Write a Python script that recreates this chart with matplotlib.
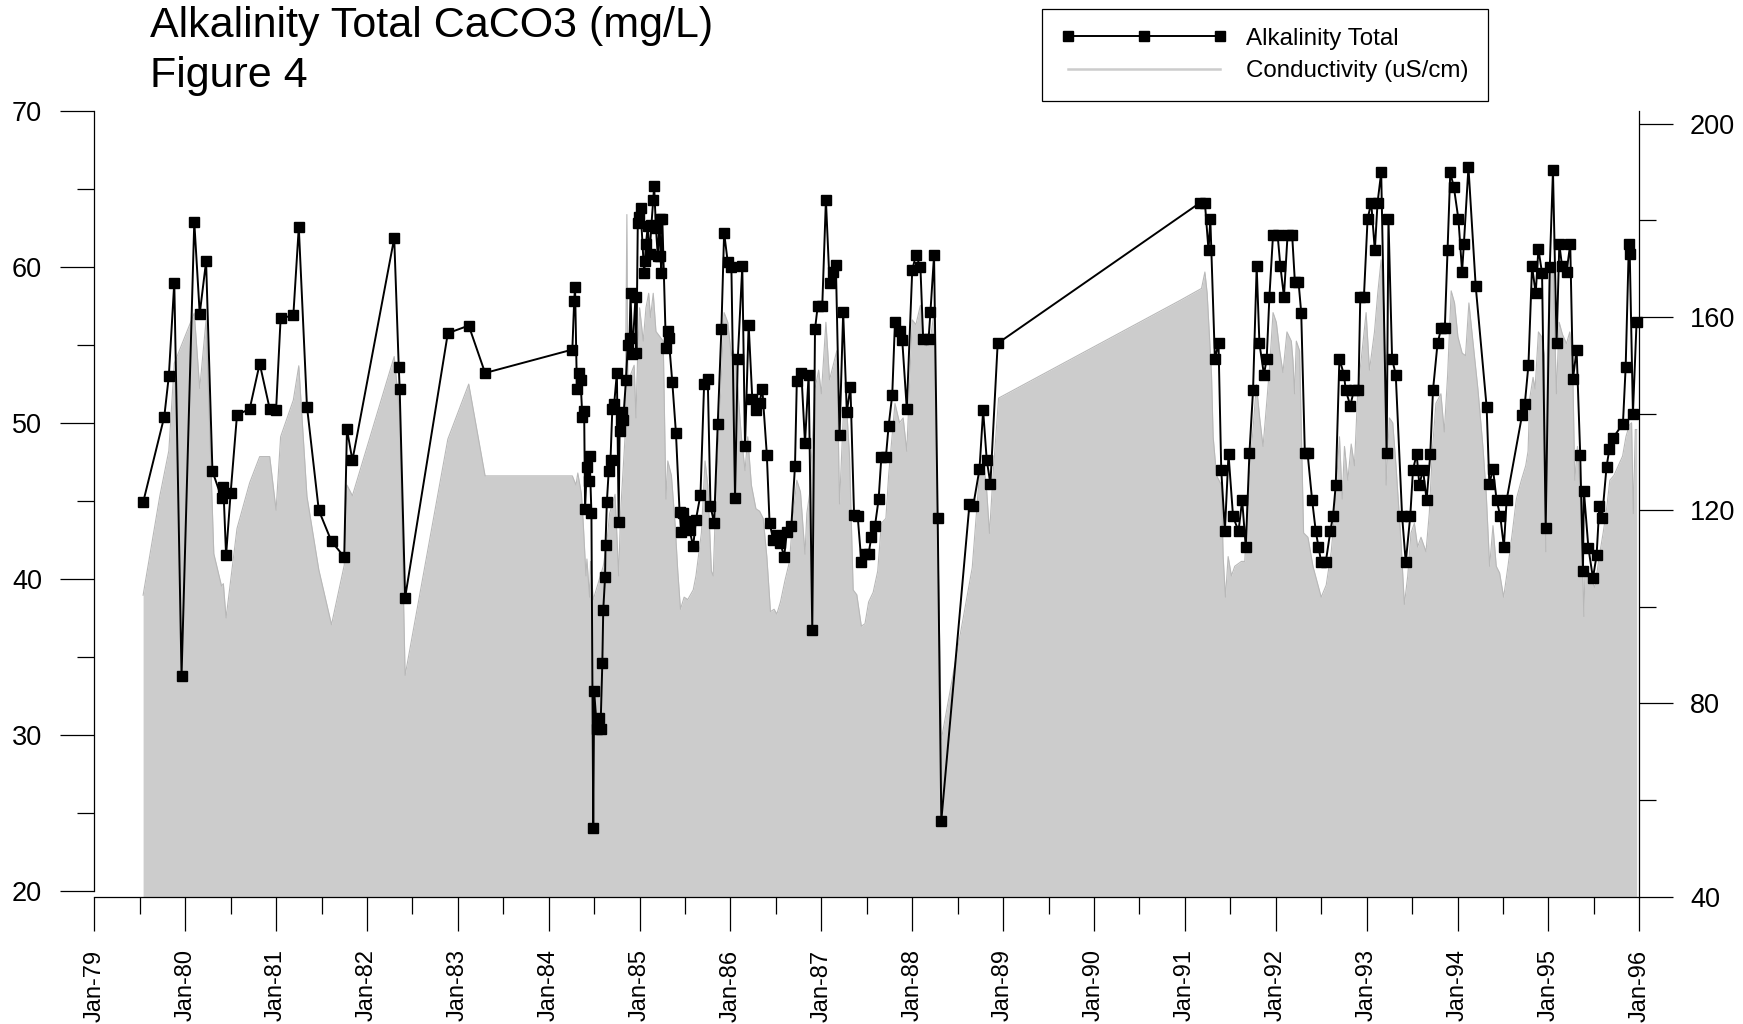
import matplotlib
matplotlib.use('Agg')
import matplotlib.pyplot as plt
from matplotlib.lines import Line2D

# ---------------- data ----------------
alk_year = [
    1979.537, 1979.77, 1979.82, 1979.88, 1979.96, 1980.10, 1980.16, 1980.23, 1980.30, 1980.40,
    1980.42, 1980.45, 1980.50, 1980.57, 1980.71, 1980.82, 1980.93, 1981.00, 1981.05, 1981.19,
    1981.25, 1981.34, 1981.47, 1981.61, 1981.75, 1981.78, 1981.84, 1982.30, 1982.35, 1982.36,
    1982.42, 1982.89, 1983.12, 1983.30,
    1984.26, 1984.28, 1984.29, 1984.31, 1984.33, 1984.35, 1984.37, 1984.39, 1984.40, 1984.42,
    1984.44, 1984.45, 1984.47, 1984.49, 1984.50, 1984.53, 1984.55, 1984.57, 1984.59, 1984.60,
    1984.62, 1984.625, 1984.64, 1984.66, 1984.68, 1984.70, 1984.72, 1984.75, 1984.77, 1984.78,
    1984.80, 1984.81, 1984.82, 1984.85, 1984.87, 1984.89, 1984.90, 1984.92, 1984.955, 1984.965,
    1984.98, 1984.99, 1985.01, 1985.05, 1985.06, 1985.07, 1985.09, 1985.11, 1985.13, 1985.15,
    1985.16, 1985.18, 1985.20, 1985.22, 1985.23, 1985.24, 1985.25, 1985.29, 1985.31, 1985.32,
    1985.36, 1985.40, 1985.44, 1985.46, 1985.48, 1985.50, 1985.55, 1985.59, 1985.62, 1985.67,
    1985.71, 1985.75, 1985.78, 1985.82, 1985.86, 1985.90, 1985.93, 1985.97, 1986.01, 1986.05,
    1986.08, 1986.13, 1986.16, 1986.20, 1986.24, 1986.28, 1986.32, 1986.35,
    1986.40, 1986.43, 1986.47, 1986.51, 1986.55, 1986.59, 1986.62, 1986.67, 1986.71, 1986.73,
    1986.78, 1986.82, 1986.86, 1986.90, 1986.93, 1986.96, 1987.01, 1987.05, 1987.09, 1987.13,
    1987.16, 1987.20, 1987.24, 1987.28, 1987.32, 1987.36, 1987.40, 1987.44, 1987.48, 1987.52,
    1987.55, 1987.59, 1987.63, 1987.66, 1987.71, 1987.74, 1987.78, 1987.81, 1987.86, 1987.89,
    1987.94, 1988.00, 1988.04, 1988.09, 1988.12, 1988.18, 1988.20, 1988.24, 1988.28, 1988.32,
    1988.63, 1988.67, 1988.74, 1988.78, 1988.82, 1988.86, 1988.94,
    1991.17, 1991.22, 1991.26, 1991.28, 1991.33, 1991.37, 1991.40, 1991.44, 1991.48, 1991.53,
    1991.59, 1991.63, 1991.67, 1991.71, 1991.75, 1991.79, 1991.82, 1991.87, 1991.90, 1991.93,
    1991.97, 1992.02, 1992.05, 1992.09, 1992.13, 1992.18, 1992.21, 1992.25, 1992.28, 1992.32,
    1992.35, 1992.40, 1992.44, 1992.47, 1992.50, 1992.55, 1992.60, 1992.63, 1992.66, 1992.70,
    1992.75, 1992.77, 1992.82, 1992.86, 1992.91, 1992.93, 1992.97, 1993.01, 1993.05, 1993.09,
    1993.12, 1993.16, 1993.22, 1993.24, 1993.28, 1993.32, 1993.39, 1993.43, 1993.48, 1993.51,
    1993.55, 1993.58, 1993.62, 1993.66, 1993.70, 1993.73, 1993.78, 1993.82, 1993.86, 1993.89,
    1993.92, 1993.96, 1994.01, 1994.05, 1994.07, 1994.12, 1994.20, 1994.32, 1994.35, 1994.39,
    1994.43, 1994.47, 1994.51, 1994.54, 1994.71, 1994.74, 1994.78, 1994.82, 1994.86, 1994.89,
    1994.93, 1994.97, 1995.015, 1995.05, 1995.09, 1995.12, 1995.15, 1995.20, 1995.24, 1995.27,
    1995.31, 1995.35, 1995.38, 1995.39, 1995.44, 1995.49, 1995.53, 1995.56, 1995.59, 1995.64,
    1995.67, 1995.71, 1995.82, 1995.85, 1995.885, 1995.895, 1995.93, 1995.97,
]
alk_value = [
    44.9, 50.4, 53.0, 59.0, 33.8, 62.9, 57.0, 60.35, 46.9, 45.2,
    45.9, 41.5, 45.5, 50.5, 50.9, 53.8, 50.9, 50.8, 56.7, 56.9,
    62.55, 51.05, 44.4, 42.4, 41.4, 49.6, 47.6, 61.85, 53.6, 52.2,
    38.8, 55.75, 56.24, 53.2,
    54.7, 57.8, 58.7, 52.2, 53.2, 52.75, 50.4, 50.75, 44.5, 47.2,
    46.3, 47.9, 44.2, 24.0, 32.8, 30.4, 31.1, 30.4, 34.6, 38.0,
    40.1, 42.2, 44.95, 46.9, 47.65, 50.9, 51.2, 53.2, 43.65, 49.5,
    50.2, 50.7, 50.2, 52.75, 55.0, 55.45, 58.3, 54.4, 58.1, 54.45,
    62.8, 63.2, 63.8, 59.6, 60.4, 61.5, 62.6, 60.8, 62.7, 64.3,
    65.2, 62.5, 60.7, 63.1, 60.7, 59.6, 63.1, 54.8, 55.9, 55.45,
    52.6, 49.35, 44.3, 43.0, 44.25, 43.7, 43.1, 42.1, 43.8, 45.4,
    52.5, 52.8, 44.65, 43.6, 49.95, 56.0, 62.2, 60.3, 60.0, 45.2,
    54.1, 60.05, 48.5, 56.3, 51.55, 50.8, 51.3, 52.2,
    47.96, 43.6, 42.5, 42.8, 42.3, 41.4, 43.0, 43.4, 47.25, 52.7,
    53.2, 48.7, 53.1, 36.7, 56.0, 57.5, 57.5, 64.3, 59.0, 59.7,
    60.1, 49.2, 57.1, 50.7, 52.3, 44.1, 44.0, 41.06, 41.6, 41.6,
    42.7, 43.4, 45.1, 47.8, 47.8, 49.8, 51.8, 56.5, 55.9, 55.3,
    50.9, 59.8, 60.75, 60.0, 55.4, 55.4, 57.1, 60.75, 43.9, 24.5,
    44.8, 44.65, 47.04, 50.8, 47.6, 46.1, 55.1,
    64.13, 64.13, 61.06, 63.05, 54.1, 55.1, 47.0, 43.05, 48.0, 44.0,
    43.05, 45.05, 42.04, 48.05, 52.1, 60.05, 55.1, 53.1, 54.1, 58.1,
    62.07, 62.07, 60.08, 58.1, 62.07, 62.07, 59.06, 59.06, 57.07, 48.05,
    48.05, 45.05, 43.05, 42.04, 41.06, 41.06, 43.05, 44.03, 46.03, 54.1,
    53.1, 52.1, 51.1, 52.1, 52.1, 58.1, 58.1, 63.05, 64.13, 61.06,
    64.13, 66.06, 48.05, 63.05, 54.1, 53.1, 44.03, 41.06, 44.03, 47.0,
    48.0, 46.03, 47.0, 45.05, 48.0, 52.1, 55.1, 56.06, 56.06, 61.06,
    66.06, 65.1, 63.05, 59.7, 61.5, 66.4, 58.76, 51.03, 46.1, 47.04,
    45.05, 44.03, 42.04, 45.05, 50.5, 51.2, 53.7, 60.05, 58.3, 61.15,
    59.6, 43.27, 60.0, 66.2, 55.1, 61.46, 60.05, 59.7, 61.46, 52.8,
    54.7, 47.96, 40.5, 45.66, 41.98, 40.05, 41.5, 44.65, 43.9, 47.2,
    48.3, 49.03, 49.95, 53.6, 61.46, 60.8, 50.6, 56.46,
]

cond_year = [
    1979.537, 1979.72, 1979.82, 1979.88, 1980.10, 1980.16, 1980.23, 1980.315, 1980.40, 1980.42,
    1980.45, 1980.57, 1980.71, 1980.82, 1980.93, 1981.00, 1981.05, 1981.19, 1981.25, 1981.34,
    1981.47, 1981.61, 1981.75, 1981.78, 1981.84, 1982.30, 1982.36, 1982.42, 1982.89, 1983.12,
    1983.30, 1984.26, 1984.30, 1984.32, 1984.36, 1984.38, 1984.41, 1984.42, 1984.45, 1984.46,
    1984.49, 1984.60, 1984.64, 1984.67, 1984.73, 1984.77, 1984.79, 1984.84, 1984.86, 1984.87,
    1984.90, 1984.94, 1984.96, 1984.98, 1985.00, 1985.04, 1985.07, 1985.10, 1985.12, 1985.15,
    1985.18, 1985.22, 1985.26, 1985.29, 1985.31, 1985.35, 1985.39, 1985.42, 1985.45, 1985.49,
    1985.53, 1985.59, 1985.62, 1985.68, 1985.72, 1985.75, 1985.79, 1985.81, 1985.84, 1985.88,
    1985.93, 1985.97, 1986.01, 1986.03, 1986.06, 1986.12, 1986.16, 1986.19, 1986.23, 1986.28,
    1986.32, 1986.36, 1986.40, 1986.44, 1986.48, 1986.51, 1986.55, 1986.60, 1986.65, 1986.68,
    1986.73, 1986.77, 1986.82, 1986.84, 1986.87, 1986.93, 1986.97, 1987.00, 1987.05, 1987.09,
    1987.13, 1987.17, 1987.20, 1987.24, 1987.28, 1987.31, 1987.35, 1987.39, 1987.44, 1987.48,
    1987.52, 1987.57, 1987.62, 1987.66, 1987.71, 1987.74, 1987.81, 1987.86, 1987.90, 1987.94,
    1988.00, 1988.04, 1988.09, 1988.13, 1988.16, 1988.20, 1988.24, 1988.32, 1988.66, 1988.74,
    1988.79, 1988.82, 1988.85, 1988.89, 1988.95, 1990.945, 1991.183, 1991.220, 1991.245, 1991.293,
    1991.311, 1991.348, 1991.402, 1991.421, 1991.446, 1991.476, 1991.512, 1991.549, 1991.622, 1991.659,
    1991.695, 1991.743, 1991.787, 1991.823, 1991.860, 1991.904, 1991.933, 1991.970, 1992.006, 1992.043,
    1992.079, 1992.123, 1992.171, 1992.189, 1992.207, 1992.226, 1992.262, 1992.306, 1992.354, 1992.409,
    1992.464, 1992.500, 1992.555, 1992.610, 1992.647, 1992.701, 1992.731, 1992.756, 1992.793, 1992.830,
    1992.866, 1992.903, 1992.939, 1992.994, 1993.031, 1993.086, 1993.122, 1993.159, 1993.195, 1993.214,
    1993.250, 1993.287, 1993.323, 1993.378, 1993.415, 1993.452, 1993.488, 1993.525, 1993.561, 1993.598,
    1993.653, 1993.689, 1993.726, 1993.762, 1993.817, 1993.854, 1993.891, 1993.930, 1993.967, 1994.004,
    1994.051, 1994.088, 1994.125, 1994.169, 1994.224, 1994.279, 1994.316, 1994.353, 1994.390, 1994.426,
    1994.463, 1994.507, 1994.555, 1994.603, 1994.647, 1994.702, 1994.750, 1994.776, 1994.794, 1994.831,
    1994.853, 1994.890, 1994.926, 1994.956, 1994.971, 1994.989, 1995.015, 1995.051, 1995.088, 1995.118,
    1995.154, 1995.199, 1995.235, 1995.265, 1995.290, 1995.320, 1995.346, 1995.375, 1995.390, 1995.404,
    1995.438, 1995.474, 1995.511, 1995.559, 1995.603, 1995.640, 1995.676, 1995.721, 1995.768, 1995.816,
    1995.853, 1995.890, 1995.915, 1995.934, 1995.956, 1995.971,
]
cond_value = [
    102.4, 122.85, 132.3, 150.4, 160.8, 145.2, 159.4, 111.0, 104.3, 104.8,
    97.7, 116.2, 125.7, 131.1, 131.1, 120.0, 135.2, 142.8, 149.9, 122.85,
    107.7, 96.3, 108.6, 125.2, 123.0, 151.8, 140.0, 85.8, 134.7, 146.1,
    127.1, 127.1, 125.2, 127.7, 123.3, 117.3, 106.4, 109.9, 102.0, 109.4,
    101.5, 108.4, 113.4, 119.3, 123.3, 106.4, 119.3, 135.2, 181.2, 147.0,
    148.0, 150.0, 139.1, 153.0, 161.9, 155.0, 161.9, 164.9, 159.9, 164.9,
    157.0, 156.0, 155.0, 122.3, 130.2, 127.2, 117.3, 107.4, 99.5, 102.0,
    101.5, 103.5, 106.4, 115.3, 130.2, 125.2, 107.4, 106.4, 123.3, 139.1,
    160.9, 158.9, 152.0, 153.0, 150.0, 135.2, 128.2, 135.2, 125.2, 120.3,
    119.8, 118.3, 110.4, 99.0, 99.5, 98.5, 101.0, 105.5, 109.4, 117.3,
    126.2, 123.8, 110.9, 119.3, 123.3, 145.1, 149.0, 144.1, 158.9, 147.0,
    150.0, 153.0, 121.3, 139.1, 140.6, 131.2, 103.5, 102.5, 96.0, 96.5,
    101.0, 103.0, 107.4, 117.3, 118.3, 127.2, 142.1, 138.1, 139.1, 132.2,
    159.4, 158.4, 162.4, 155.0, 154.0, 155.5, 160.9, 72.5, 108.1, 127.6,
    129.0, 123.8, 115.2, 127.6, 143.2, 163.4, 165.9, 169.3, 164.9, 148.0,
    135.2, 127.2, 125.2, 110.4, 102.0, 110.4, 106.4, 108.4, 109.4, 109.4,
    124.3, 135.2, 146.0, 139.1, 133.2, 143.1, 150.0, 160.9, 158.9, 153.0,
    148.5, 156.9, 155.0, 151.0, 144.1, 155.0, 153.0, 115.3, 114.4, 108.4,
    104.5, 102.0, 104.5, 111.4, 119.3, 135.2, 122.3, 133.2, 126.2, 133.7,
    129.2, 145.1, 151.0, 160.9, 149.0, 156.9, 164.9, 171.8, 159.9, 125.2,
    139.1, 138.1, 129.2, 113.4, 100.5, 106.4, 115.3, 117.3, 112.4, 114.4,
    111.4, 119.3, 133.2, 142.1, 144.1, 136.2, 148.0, 165.4, 162.9, 155.9,
    152.5, 152.0, 162.9, 155.0, 145.1, 133.2, 123.3, 108.4, 116.8, 108.4,
    107.0, 102.0, 108.4, 115.4, 122.3, 126.2, 129.2, 132.2, 143.1, 147.5,
    145.1, 156.9, 155.9, 152.0, 111.4, 153.0, 170.3, 170.8, 144.1, 158.9,
    156.4, 154.5, 156.9, 152.0, 126.2, 133.2, 125.2, 109.4, 98.0, 108.4,
    107.4, 105.5, 104.0, 110.4, 115.4, 120.3, 126.2, 127.2, 129.2, 131.2,
    135.2, 137.6, 138.1, 119.3, 136.7, 136.7,
]

year_ticks = list(range(1979, 1997))
year_labels = ["Jan-%02d" % (y % 100) for y in year_ticks]
left_ticks = [20, 30, 40, 50, 60, 70]
right_ticks = [40, 80, 120, 160, 200]

title_lines = ["Alkalinity Total CaCO3 (mg/L)", "Figure 4"]
legend_labels = ["Alkalinity Total", "Conductivity (uS/cm)"]

# ---------------- figure ----------------
plt.rcParams['font.family'] = ['Liberation Sans', 'DejaVu Sans']
W, H = 1743, 1024
fig = plt.figure(figsize=(W / 100, H / 100), dpi=100)


def fx(px):
    return px / W


def fy(py):
    return 1 - py / H


x_left, x_right = 94.3, 1639.3
# right axis (conductivity) + x axis
ax2 = fig.add_axes([fx(x_left), fy(896.7), fx(x_right) - fx(x_left), fy(111) - fy(896.7)])
# left axis (alkalinity)
ax1 = fig.add_axes([fx(x_left), fy(890.7), fx(x_right) - fx(x_left), fy(111) - fy(890.7)])

fill_col = '#cccccc'
edge_col = '#b8b8b8'
ax2.fill_between(cond_year, 40, cond_value, color=fill_col, lw=0)
ax2.plot(cond_year, cond_value, color=edge_col, lw=0.8)
ax2.set_xlim(1979, 1996)
px_per_unit = (896.7 - 123.7) / 160.0
ax2.set_ylim(40, 200 + (123.7 - 111) / px_per_unit)

for s in ['left', 'top']:
    ax2.spines[s].set_visible(False)
for s in ['right', 'bottom']:
    ax2.spines[s].set_linewidth(0.9)
ax2.yaxis.tick_right()
ax2.set_yticks(right_ticks)
ax2.set_yticks([60, 100, 140, 180], minor=True)
ax2.set_xticks(year_ticks)
ax2.set_xticklabels(year_labels, rotation=90)
ax2.set_xticks([y + 0.5 for y in year_ticks[:-1]], minor=True)
ax2.tick_params(axis='both', which='major', direction='out', length=24.5, width=0.9, pad=12)
ax2.tick_params(axis='both', which='minor', direction='out', length=12.2, width=0.9)
ax2.tick_params(axis='x', which='major', pad=13.5, labelsize=17)
ax2.tick_params(axis='y', which='major', labelsize=19.5)

ax1.patch.set_visible(False)
ax1.plot(alk_year, alk_value, '-s', color='black', lw=1.4, ms=7, mfc='black', mec='black',
         clip_on=False)
ax1.set_xlim(1979, 1996)
ax1.set_ylim(20, 70)
for s in ['right', 'top', 'bottom']:
    ax1.spines[s].set_visible(False)
ax1.spines['left'].set_linewidth(0.9)
ax1.set_xticks([])
ax1.set_yticks(left_ticks)
ax1.set_yticks([25, 35, 45, 55, 65], minor=True)
ax1.tick_params(axis='y', which='major', direction='out', length=24.5, width=0.9,
                labelsize=19.5, pad=13)
ax1.tick_params(axis='y', which='minor', direction='out', length=12.2, width=0.9)

# titles
fig.text(fx(150), fy(36.7), title_lines[0], fontsize=31, va='baseline', ha='left')
fig.text(fx(150), fy(86.7), title_lines[1], fontsize=31, va='baseline', ha='left')

# legend
handles = [
    Line2D([], [], color='black', lw=1.4, marker='s', ms=7, mfc='black', mec='black'),
    Line2D([], [], color=fill_col, lw=1.8),
]
leg = fig.legend(handles, legend_labels, loc='upper left',
                 bbox_to_anchor=(fx(1041.5), fy(9)), frameon=True, fancybox=False,
                 edgecolor='black', framealpha=1, fontsize=17.4, numpoints=3,
                 handlelength=6.9, handletextpad=0.8, borderpad=0.78, labelspacing=0.42,
                 borderaxespad=0)
leg.get_frame().set_linewidth(0.9)

fig.savefig('out.png', dpi=100)
